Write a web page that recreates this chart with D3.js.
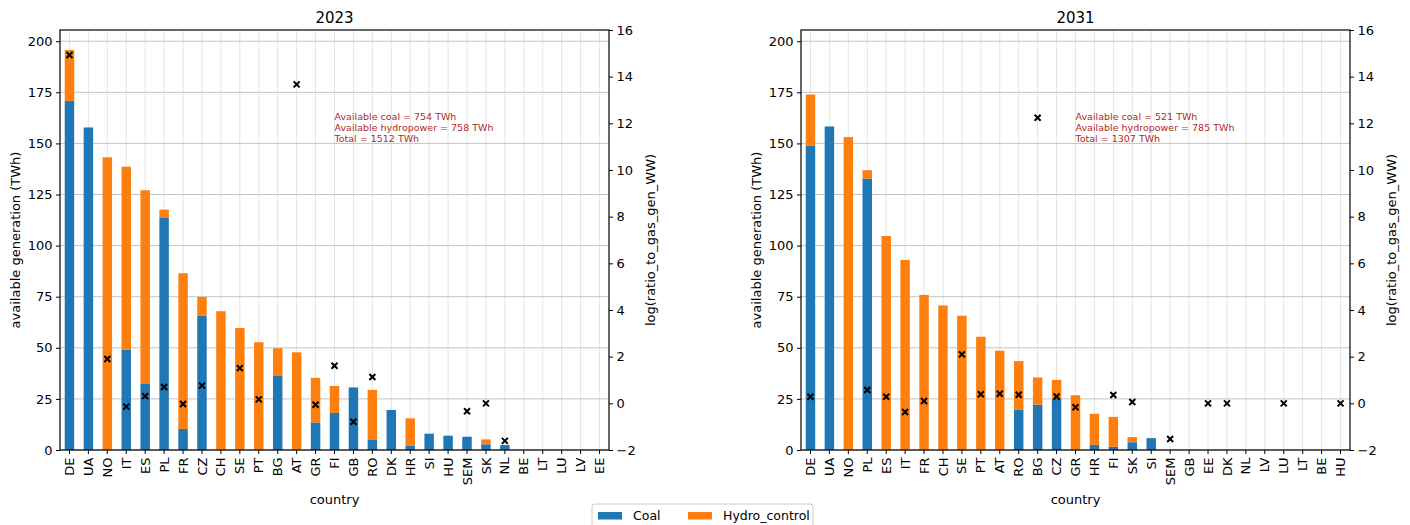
<!DOCTYPE html>
<html>
<head>
<meta charset="utf-8">
<script src="https://cdn.jsdelivr.net/npm/d3@7"></script>
<style>
  html, body { margin: 0; padding: 0; background: #fff; }
  svg { display: block; font-family: "DejaVu Sans", sans-serif; }
</style>
</head>
<body>
<svg id="chart" width="1410" height="525"></svg>
<script>
// Available generation per country (TWh) and log ratio to gas generation
const countries2023 = ["DE","UA","NO","IT","ES","PL","FR","CZ","CH","SE","PT","BG","AT","GR","FI","GB","RO","DK","HR","SI","HU","SEM","SK","NL","BE","LT","LU","LV","EE"];
const coal2023  = [170.8, 157.8, 0, 49.2, 32.6, 113.8, 10.3, 65.8, 0, 0, 0, 36.2, 0, 13.5, 18.1, 30.6, 5.2, 19.6, 2.0, 8.0, 7.0, 6.5, 2.8, 2.4, 0, 0, 0, 0, 0];
const hydro2023 = [24.9, 0, 143.2, 89.4, 94.5, 3.8, 76.2, 9.1, 67.9, 59.7, 52.7, 13.6, 47.8, 21.8, 13.2, 0, 24.2, 0, 13.5, 0, 0, 0, 2.4, 0, 0, 0, 0, 0, 0];
const ratio2023 = [14.93, null, 1.9, -0.14, 0.31, 0.7, -0.03, 0.76, null, 1.51, 0.17, null, 13.67, -0.06, 1.61, -0.79, 1.13, null, null, null, null, -0.34, 0.0, -1.61, null, null, null, null, null];
const notes2023 = ["Available coal = 754 TWh", "Available hydropower = 758 TWh", "Total = 1512 TWh"];

const countries2031 = ["DE","UA","NO","PL","ES","IT","FR","CH","SE","PT","AT","RO","BG","CZ","GR","HR","FI","SK","SI","SEM","GB","EE","DK","NL","LV","LU","LT","BE","HU"];
const coal2031  = [149.0, 158.3, 0, 132.8, 0, 0, 0, 0, 0, 0, 0, 19.8, 22.2, 25.2, 0, 2.5, 1.6, 3.8, 5.8, 0, 0, 0, 0, 0, 0, 0, 0, 0, 0];
const hydro2031 = [24.9, 0, 153.1, 4.1, 104.7, 93.0, 75.9, 70.7, 65.7, 55.4, 48.6, 23.7, 13.3, 9.1, 26.8, 15.2, 14.6, 2.5, 0, 0, 0, 0, 0, 0, 0, 0, 0, 0, 0];
const ratio2031 = [0.28, null, null, 0.57, 0.28, -0.37, 0.1, null, 2.1, 0.39, 0.41, 0.37, 12.24, 0.29, -0.17, null, 0.36, 0.06, null, -1.53, null, 0, 0, null, null, 0, null, null, 0];
const notes2031 = ["Available coal = 521 TWh", "Available hydropower = 785 TWh", "Total = 1307 TWh"];

const ratioTicks = [-2, 0, 2, 4, 6, 8, 10, 12, 14, 16];
const genTicks = [0, 25, 50, 75, 100, 125, 150, 175, 200];
const seriesNames = ["Coal", "Hydro_control"];

const COAL = "#1f77b4", HYDRO = "#ff7f0e";
const svg = d3.select("#chart");

// shared left-axis range for both panels
const totals = coal2023.map((c, i) => c + hydro2023[i]).concat(coal2031.map((c, i) => c + hydro2031[i]));
const genMax = d3.max(totals) * 1.05;

function panel(left, right, title, cats, coal, hydro, ratio, notes) {
  const top = 30, bottom = 450;
  const x = d3.scaleBand().domain(cats).range([left, right]).padding(0);
  const y = d3.scaleLinear().domain([0, genMax]).range([bottom, top]);
  const y2 = d3.scaleLinear().domain([-2, 16]).range([bottom, top]);
  const g = svg.append("g");
  const bw = x.bandwidth() * 0.5;

  // grid
  g.append("g").selectAll("line").data(cats).join("line")
    .attr("x1", d => x(d) + x.bandwidth() / 2).attr("x2", d => x(d) + x.bandwidth() / 2)
    .attr("y1", top).attr("y2", bottom)
    .attr("stroke", "#e4e4e4").attr("stroke-width", 1);
  g.append("g").selectAll("line").data(genTicks).join("line")
    .attr("x1", left).attr("x2", right)
    .attr("y1", d => y(d)).attr("y2", d => y(d))
    .attr("stroke", "#c4c4c4").attr("stroke-width", 1);

  // stacked bars
  const rows = cats.map((c, i) => ({ c, coal: coal[i], hydro: hydro[i], r: ratio[i] }));
  g.append("g").selectAll("rect").data(rows.filter(d => d.coal > 0)).join("rect")
    .attr("x", d => x(d.c) + x.bandwidth() / 2 - bw / 2).attr("width", bw)
    .attr("y", d => y(d.coal)).attr("height", d => y(0) - y(d.coal))
    .attr("fill", COAL);
  g.append("g").selectAll("rect").data(rows.filter(d => d.hydro > 0)).join("rect")
    .attr("x", d => x(d.c) + x.bandwidth() / 2 - bw / 2).attr("width", bw)
    .attr("y", d => y(d.coal + d.hydro)).attr("height", d => y(d.coal) - y(d.coal + d.hydro))
    .attr("fill", HYDRO);

  // annotation
  const ax = x(cats[14]) + x.bandwidth() / 2;
  g.append("g").selectAll("text").data(notes).join("text")
    .attr("x", ax).attr("y", (d, i) => y(161.6) + i * 11.2)
    .attr("font-size", 9.5).attr("fill", "#b02a2a").text(d => d);

  // ratio markers
  const ms = 3;
  const mk = g.append("g").selectAll("g").data(rows.filter(d => d.r !== null)).join("g")
    .attr("transform", d => `translate(${x(d.c) + x.bandwidth() / 2},${y2(d.r)})`);
  mk.append("path").attr("d", `M${-ms},${-ms}L${ms},${ms}M${-ms},${ms}L${ms},${-ms}`)
    .attr("stroke", "#000").attr("stroke-width", 2).attr("fill", "none");

  // frame
  g.append("rect").attr("x", left).attr("y", top).attr("width", right - left).attr("height", bottom - top)
    .attr("fill", "none").attr("stroke", "#000").attr("stroke-width", 1.2);

  // axes
  const ax1 = g.append("g").attr("transform", `translate(${left},0)`)
    .call(d3.axisLeft(y).tickValues(genTicks).tickSize(4).tickPadding(3.5));
  const ax2 = g.append("g").attr("transform", `translate(${right},0)`)
    .call(d3.axisRight(y2).tickValues(ratioTicks).tickSize(4).tickPadding(3.5).tickFormat(d => d < 0 ? "\u2212" + Math.abs(d) : d));
  const ax3 = g.append("g").attr("transform", `translate(0,${bottom})`)
    .call(d3.axisBottom(x).tickSize(4).tickPadding(3.5));
  [ax1, ax2, ax3].forEach(a => {
    a.select(".domain").remove();
    a.selectAll("text").attr("font-size", 13).attr("fill", "#000").attr("font-family", "DejaVu Sans");
    a.selectAll("line").attr("stroke", "#000");
  });
  ax3.selectAll("text")
    .attr("transform", "rotate(-90)").attr("text-anchor", "end")
    .attr("x", -7.5).attr("y", 0).attr("dy", "0.35em");

  // labels
  g.append("text").attr("x", (left + right) / 2).attr("y", 23).attr("text-anchor", "middle")
    .attr("font-size", 15).text(title);
  g.append("text").attr("x", (left + right) / 2).attr("y", 504).attr("text-anchor", "middle")
    .attr("font-size", 13).text("country");
  g.append("text").attr("transform", `translate(${left - 40},${(top + bottom) / 2}) rotate(-90)`)
    .attr("text-anchor", "middle").attr("font-size", 13).text("available generation (TWh)");
  g.append("text").attr("transform", `translate(${right + 46},${(top + bottom) / 2}) rotate(-90)`)
    .attr("text-anchor", "middle").attr("font-size", 13).text("log(ratio_to_gas_gen_WW)");
}

panel(60, 609, "2023", countries2023, coal2023, hydro2023, ratio2023, notes2023);
panel(801, 1350, "2031", countries2031, coal2031, hydro2031, ratio2031, notes2031);

// legend
const lg = svg.append("g");
lg.append("rect").attr("x", 592).attr("y", 504).attr("width", 221).attr("height", 30).attr("rx", 3)
  .attr("fill", "#fff").attr("stroke", "#cccccc");
const lx = [598, 688];
seriesNames.forEach((s, i) => {
  lg.append("rect").attr("x", lx[i]).attr("y", 512).attr("width", 24).attr("height", 7.5)
    .attr("fill", i === 0 ? COAL : HYDRO);
  lg.append("text").attr("x", lx[i] + 35).attr("y", 520).attr("font-size", 12.5).text(s);
});
</script>
</body>
</html>
